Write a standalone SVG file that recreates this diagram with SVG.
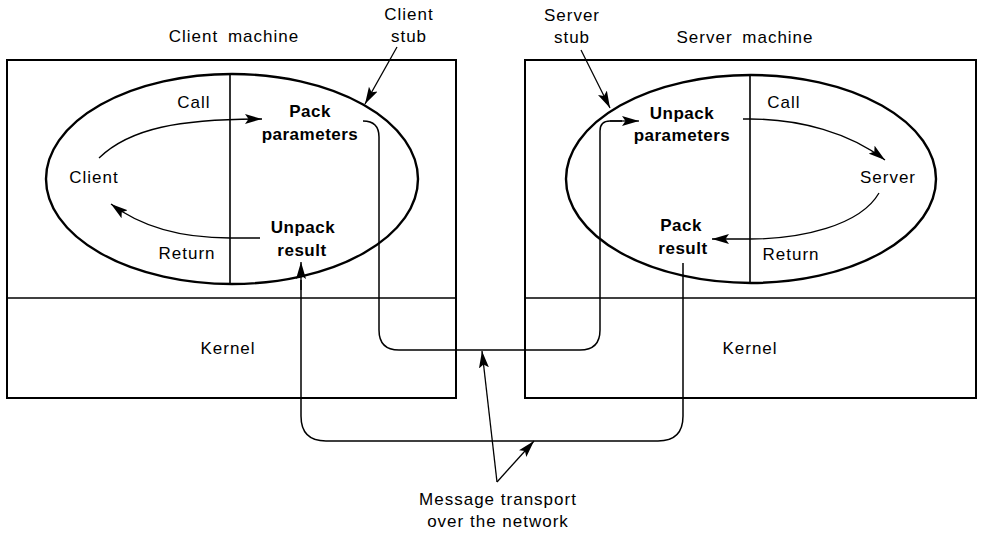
<svg xmlns="http://www.w3.org/2000/svg" width="982" height="533" viewBox="0 0 982 533">
<defs>
<marker id="ah" markerWidth="18" markerHeight="11" refX="17" refY="5.5" orient="auto" markerUnits="userSpaceOnUse">
<path d="M0,0.5 L17,5.5 L0,10.5 L3.5,5.5 Z" fill="#000"/>
</marker>
</defs>
<style>
text{font-family:"Liberation Sans",Arial,sans-serif;font-size:17px;letter-spacing:1px;fill:#000;text-anchor:middle}
.b{font-weight:bold;letter-spacing:0.5px}
.m{word-spacing:4px}
.box{fill:none;stroke:#000;stroke-width:2}
.div{fill:none;stroke:#000;stroke-width:1.3}
.ell{fill:none;stroke:#000;stroke-width:2.4}
.vl{fill:none;stroke:#000;stroke-width:1.6}
.c{fill:none;stroke:#000;stroke-width:1.5}
.a{fill:none;stroke:#000;stroke-width:1.3;marker-end:url(#ah)}
</style>
<rect width="982" height="533" fill="#fff"/>
<g id="client-machine">
<rect class="box" x="7" y="60" width="449" height="338"/>
<line class="div" x1="7" y1="298" x2="456" y2="298"/>
<text class="m" x="234" y="42">Client machine</text>
<text x="228" y="354">Kernel</text>
</g>
<g id="server-machine">
<rect class="box" x="525" y="60" width="451" height="338"/>
<line class="div" x1="525" y1="298" x2="976" y2="298"/>
<text class="m" x="745" y="43">Server machine</text>
<text x="750" y="354">Kernel</text>
</g>
<g id="client-stub">
<ellipse class="ell" cx="232" cy="179" rx="186" ry="105"/>
<line class="vl" x1="230" y1="74" x2="230" y2="284"/>
<text x="409" y="20">Client</text>
<text x="409" y="42">stub</text>
<text class="b" x="310" y="117">Pack</text>
<text class="b" x="310" y="140">parameters</text>
<text class="b" x="303" y="233">Unpack</text>
<text class="b" x="302" y="256">result</text>
</g>
<g id="client">
<text x="94" y="183">Client</text>
<text x="194" y="108">Call</text>
<text x="187" y="259">Return</text>
</g>
<g id="server-stub">
<ellipse class="ell" cx="751" cy="179" rx="185" ry="104"/>
<line class="vl" x1="750" y1="75" x2="750" y2="283"/>
<text x="572" y="21">Server</text>
<text x="572" y="43">stub</text>
<text class="b" x="682" y="119">Unpack</text>
<text class="b" x="682" y="141">parameters</text>
<text class="b" x="681" y="231">Pack</text>
<text class="b" x="683" y="254">result</text>
</g>
<g id="server">
<text x="888" y="183">Server</text>
<text x="784" y="108">Call</text>
<text x="791" y="260">Return</text>
</g>
<g id="message-transport">
<text x="498" y="505">Message transport</text>
<text x="498" y="527">over the network</text>
</g>
<g id="connectors">
<path class="a" d="M99,158 C130,128 180,119 262,119"/>
<path class="a" d="M260,238 L230,238 C180,238 140,226 111,204"/>
<path class="a" d="M743,119 L750,119 C800,119 850,133 885,160"/>
<path class="a" d="M879,193 C860,226 800,239 750,239 L712,239"/>
<path class="a" d="M397,47 L365,104"/>
<path class="a" d="M581,50 L610,108"/>
<path class="c" d="M363,121 Q379,121 379,137 L379,330 Q379,350 399,350 L580,350 Q600,350 600,330 L600,131 Q600,121 610,121 L622,121"/>
<path class="a" d="M610,121 L639,121"/>
<path class="c" d="M683,263 L683,416 Q683,441 658,441 L326,441 Q301,441 301,416 L301,280"/>
<path class="a" d="M301,290 L301,262"/>
<path class="a" d="M497,482 L482,351"/>
<path class="a" d="M497,482 L534,441"/>
</g>
</svg>
